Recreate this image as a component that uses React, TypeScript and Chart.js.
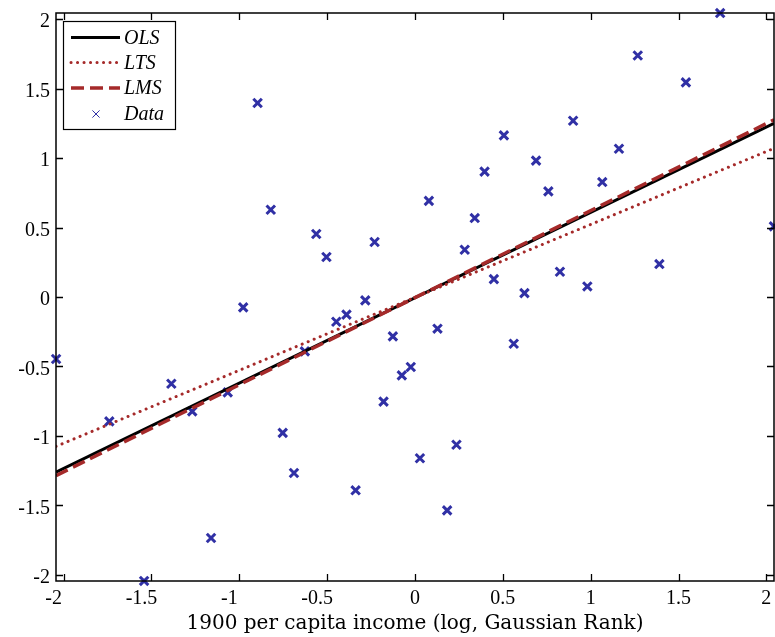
import React, { useEffect, useRef } from "react";
import { Chart, registerables } from "chart.js";

Chart.register(...registerables);

// ---- data ----
const dataX = [
  -2.043, -1.74, -1.542, -1.387, -1.268, -1.161, -1.066, -0.978, -0.896, -0.821,
  -0.753, -0.689, -0.627, -0.562, -0.504, -0.448, -0.39, -0.338, -0.283, -0.23,
  -0.179, -0.126, -0.075, -0.024, 0.028, 0.079, 0.128, 0.183, 0.236, 0.283,
  0.34, 0.396, 0.449, 0.506, 0.562, 0.623, 0.689, 0.759, 0.825, 0.9,
  0.981, 1.066, 1.161, 1.268, 1.391, 1.542, 1.737, 2.043,
];
const dataY = [
  -0.446, -0.895, -2.043, -0.624, -0.823, -1.734, -0.686, -0.075, 1.396, 0.628,
  -0.978, -1.266, -0.391, 0.453, 0.288, -0.178, -0.127, -1.391, -0.024, 0.396,
  -0.753, -0.283, -0.564, -0.504, -1.16, 0.692, -0.228, -1.535, -1.063, 0.34,
  0.568, 0.902, 0.129, 1.163, -0.336, 0.028, 0.981, 0.76, 0.182, 1.268,
  0.076, 0.827, 1.067, 1.738, 0.237, 1.544, 2.043, 0.508,
];
const lineX = [-2.0435, 2.0435];
const olsY = [-1.26, 1.25];
const ltsY = [-1.075, 1.07];
const lmsY = [-1.285, 1.275];

const seriesLabels = ["OLS", "LTS", "LMS", "Data"];
const xTicks = [-2, -1.5, -1, -0.5, 0, 0.5, 1, 1.5, 2];
const yTicks = [-2, -1.5, -1, -0.5, 0, 0.5, 1, 1.5, 2];
const xTitle = "1900 per capita income (log, Gaussian Rank)";
const axisMin = -2.0435;
const axisMax = 2.0435;

const RED = "rgb(165,42,42)";
const BLUE = "rgb(48,48,165)";
const SERIF = "'Liberation Serif', 'Times New Roman', serif";

const framePlugin = {
  id: "frameAndLegend",
  afterDatasetsDraw(chart: any) {
    const { ctx, chartArea: a, scales } = chart;
    ctx.save();
    // axes box
    ctx.strokeStyle = "#000";
    ctx.lineWidth = 1.5;
    ctx.setLineDash([]);
    ctx.strokeRect(a.left, a.top, a.right - a.left, a.bottom - a.top);
    // inward ticks on all four sides
    const tl = 7;
    ctx.lineWidth = 1.3;
    ctx.beginPath();
    for (const v of xTicks) {
      const px = Math.round(scales.x.getPixelForValue(v)) + 0.5;
      ctx.moveTo(px, a.bottom);
      ctx.lineTo(px, a.bottom - tl);
      ctx.moveTo(px, a.top);
      ctx.lineTo(px, a.top + tl);
    }
    for (const v of yTicks) {
      const py = Math.round(scales.y.getPixelForValue(v)) + 0.5;
      ctx.moveTo(a.left, py);
      ctx.lineTo(a.left + tl, py);
      ctx.moveTo(a.right, py);
      ctx.lineTo(a.right - tl, py);
    }
    ctx.stroke();

    // legend box
    const lx = 63.5, ly = 21.5, lw = 112, lh = 108;
    ctx.fillStyle = "#fff";
    ctx.fillRect(lx, ly, lw, lh);
    ctx.strokeStyle = "#000";
    ctx.lineWidth = 1.2;
    ctx.strokeRect(lx, ly, lw, lh);

    const rowY = [37.5, 62.5, 88, 114];
    const x0 = 71, x1 = 120, tx = 124;
    const ds = chart.data.datasets;
    ctx.font = `italic 20px ${SERIF}`;
    ctx.textBaseline = "middle";
    ctx.textAlign = "left";
    for (let i = 0; i < ds.length; i++) {
      const d = ds[i];
      const y = rowY[i];
      if (d.type === "line") {
        ctx.strokeStyle = d.borderColor;
        ctx.lineWidth = d.borderWidth;
        ctx.lineCap = d.borderCapStyle || "butt";
        ctx.setLineDash(d.borderDash || []);
        ctx.beginPath();
        ctx.moveTo(x0, y);
        ctx.lineTo(x1, y);
        ctx.stroke();
        ctx.setLineDash([]);
        ctx.lineCap = "butt";
      } else {
        const cx = (x0 + x1) / 2 + 0.5, r = 3.6;
        ctx.strokeStyle = d.borderColor;
        ctx.lineWidth = 1;
        ctx.beginPath();
        ctx.moveTo(cx - r, y - r);
        ctx.lineTo(cx + r, y + r);
        ctx.moveTo(cx + r, y - r);
        ctx.lineTo(cx - r, y + r);
        ctx.stroke();
      }
      ctx.fillStyle = "#000";
      ctx.fillText(d.label, tx, y + 1);
    }
    ctx.restore();
  },
};

export default function App() {
  const ref = useRef<HTMLCanvasElement | null>(null);

  useEffect(() => {
    if (!ref.current) return;
    const toXY = (xs: number[], ys: number[]) => xs.map((x, i) => ({ x, y: ys[i] }));
    const chart = new Chart(ref.current, {
      type: "scatter",
      data: {
        datasets: [
          {
            type: "line",
            label: seriesLabels[0],
            data: toXY(lineX, olsY),
            borderColor: "#000",
            borderWidth: 3,
            pointRadius: 0,
            fill: false,
            order: 3,
          },
          {
            type: "line",
            label: seriesLabels[1],
            data: toXY(lineX, ltsY),
            borderColor: RED,
            borderWidth: 3,
            borderDash: [0.1, 6.4],
            borderCapStyle: "round",
            pointRadius: 0,
            fill: false,
            order: 2,
          },
          {
            type: "line",
            label: seriesLabels[2],
            data: toXY(lineX, lmsY),
            borderColor: RED,
            borderWidth: 3.5,
            borderDash: [13, 6],
            pointRadius: 0,
            fill: false,
            order: 1,
          },
          {
            type: "scatter",
            label: seriesLabels[3],
            data: toXY(dataX, dataY),
            borderColor: BLUE,
            backgroundColor: BLUE,
            pointBorderColor: BLUE,
            pointStyle: "crossRot",
            pointRadius: 6,
            pointBorderWidth: 3,
            showLine: false,
            clip: false,
            order: 4,
          } as any,
        ],
      },
      options: {
        animation: false,
        responsive: false,
        devicePixelRatio: 1,
        events: [],
        layout: { autoPadding: false, padding: { top: 13, right: 1, left: 0, bottom: 0 } },
        plugins: { legend: { display: false }, tooltip: { enabled: false } },
        scales: {
          x: {
            type: "linear",
            min: axisMin,
            max: axisMax,
            grid: { display: false, drawTicks: false },
            border: { display: false },
            ticks: {
              font: { family: SERIF, size: 20 },
              color: "#000",
              padding: 6,
              maxRotation: 0,
              autoSkip: false,
              callback: (v: any) => (Number(v) < 0 ? String(v) + "    " : String(v)),
            },
            afterBuildTicks: (s: any) => {
              s.ticks = xTicks.map((v) => ({ value: v }));
            },
            afterFit: (s: any) => {
              s.height = 56;
              s.paddingLeft = 0;
              s.paddingRight = 0;
            },
            title: {
              display: true,
              text: xTitle,
              color: "#000",
              font: { family: "'DejaVu Serif', serif", size: 20 },
              padding: { top: 0, bottom: 1 },
            },
          },
          y: {
            type: "linear",
            min: axisMin,
            max: axisMax,
            grid: { display: false, drawTicks: false },
            border: { display: false },
            ticks: {
              font: { family: SERIF, size: 20 },
              color: "#000",
              padding: 6,
              labelOffset: 3,
              autoSkip: false,
              callback: (v: any) => String(v),
            },
            afterBuildTicks: (s: any) => {
              s.ticks = yTicks.map((v) => ({ value: v }));
            },
            afterFit: (s: any) => {
              s.width = 56;
              s.paddingTop = 0;
              s.paddingBottom = 0;
            },
          },
        },
      },
      plugins: [framePlugin],
    });
    return () => chart.destroy();
  }, []);

  return (
    <div style={{ position: "fixed", left: 0, top: 0, width: 775, height: 637, background: "#fff" }}>
      <canvas ref={ref} width={775} height={637} style={{ display: "block", width: 775, height: 637 }} />
    </div>
  );
}
